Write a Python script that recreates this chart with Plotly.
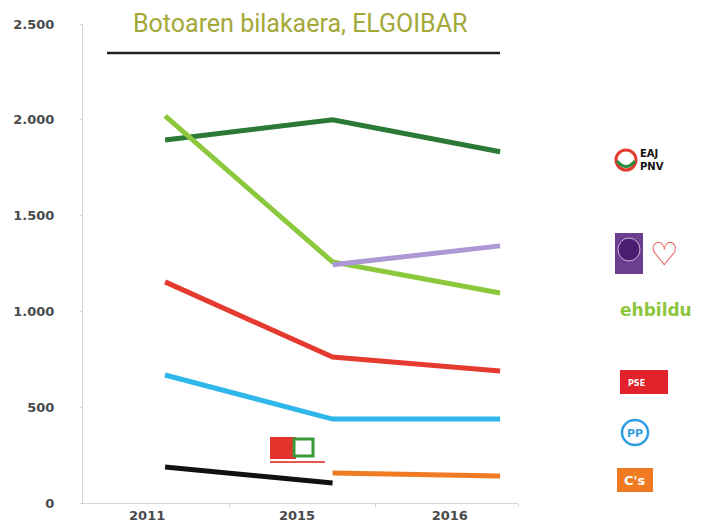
import plotly.graph_objects as go

years = ["2011", "2015", "2016"]
pnv = [1895, 2000, 1833]
bildu = [2020, 1258, 1096]
podemos = [None, 1243, 1342]
pse = [1154, 762, 689]
pp = [668, 438, 438]
cs = [None, 157, 141]
ezker = [188, 104, None]

series = [
    ("EAJ-PNV", pnv, "#2a7a35"),
    ("EH Bildu", bildu, "#8cc83c"),
    ("Podemos", podemos, "#ad98d6"),
    ("PSE", pse, "#e53a30"),
    ("PP", pp, "#2fb6ea"),
    ("C's", cs, "#f07b22"),
    ("Ezker Anitza", ezker, "#111111"),
]

# page offset of the plot div (body margin) and plot area in screen pixels
OFF = 8
L, R, T, B = 83, 518, 24, 503


def px(x):
    return (x - L) / (R - L)


def py(y):
    return (B - y) / (B - T)


xpos = [0, 1, 2]
fig = go.Figure()
for name, vals, color in series:
    fig.add_trace(go.Scatter(x=xpos, y=vals, name=name, mode="lines",
                             line=dict(color=color, width=5), connectgaps=False))

tick_font = dict(family="DejaVu Sans", size=13, color="#4a4a4a", weight="bold")
fig.update_xaxes(range=[-0.49, 2.107], showgrid=False, zeroline=False,
                 showline=True, linecolor="#cfd6de", linewidth=1,
                 tickmode="array", tickvals=[-0.107, 0.788, 1.70], ticktext=years,
                 ticks="", tickfont=tick_font, automargin=False,
                 minor=dict(tickmode="array", tickvals=[0.382, 1.254, 2.107],
                            ticks="outside", ticklen=3, tickcolor="#cfd6de"))
fig.update_yaxes(range=[0, 2500], showgrid=False, zeroline=False,
                 showline=True, linecolor="#cfd6de", linewidth=1,
                 tickvals=[0, 500, 1000, 1500, 2000, 2500], tickformat=",d",
                 ticks="outside", ticklen=2, tickcolor="#cfd6de",
                 ticklabelstandoff=23, automargin=False,
                 tickfont=tick_font)

shapes = [
    # rule under title
    dict(type="line", xref="paper", yref="paper", x0=px(107), x1=px(500), y0=py(53), y1=py(53),
         line=dict(color="#222", width=2.5)),
    # PNV mark
    dict(type="circle", xref="paper", yref="paper", x0=px(616), x1=px(636), y0=py(150), y1=py(170),
         line=dict(color="#e33b30", width=3)),
    dict(type="path", xref="paper", yref="paper",
         path=f"M {px(617)},{py(161)} Q {px(626)},{py(172)} {px(635)},{py(161)}",
         line=dict(color="#2a8a3c", width=3)),
    # Podemos square
    dict(type="rect", xref="paper", yref="paper", x0=px(615), x1=px(643), y0=py(233), y1=py(274),
         fillcolor="#6b3e8e", line=dict(width=0)),
    dict(type="circle", xref="paper", yref="paper", x0=px(618), x1=px(640), y0=py(238), y1=py(261),
         fillcolor="#4a1d6e", line=dict(color="#c9b7dc", width=1)),
    # PSE box
    dict(type="rect", xref="paper", yref="paper", x0=px(620), x1=px(668), y0=py(370), y1=py(394),
         fillcolor="#e3232b", line=dict(width=0)),
    # PP circle
    dict(type="circle", xref="paper", yref="paper", x0=px(622), x1=px(648), y0=py(420), y1=py(445),
         line=dict(color="#2f9ee0", width=2.5)),
    # Cs box
    dict(type="rect", xref="paper", yref="paper", x0=px(617), x1=px(653), y0=py(468), y1=py(492),
         fillcolor="#f07b22", line=dict(width=0)),
    # Ezker Anitza mark
    dict(type="rect", xref="paper", yref="paper", x0=px(270), x1=px(296), y0=py(437), y1=py(459),
         fillcolor="#e2332c", line=dict(width=0)),
    dict(type="rect", xref="paper", yref="paper", x0=px(294), x1=px(313), y0=py(439), y1=py(456),
         fillcolor="white", line=dict(color="#3a9a3a", width=3)),
    dict(type="line", xref="paper", yref="paper", x0=px(270), x1=px(325), y0=py(462), y1=py(462),
         line=dict(color="#e8574f", width=2)),
]

annotations = [
    dict(text="Botoaren bilakaera, ELGOIBAR", xref="paper", yref="paper", x=px(300), y=py(23),
         showarrow=False, xanchor="center", yanchor="middle",
         font=dict(family="Roboto", size=25, color="#a3a838")),
    dict(text="<b>EAJ<br>PNV</b>", xref="paper", yref="paper", x=px(638), y=py(160),
         showarrow=False, xanchor="left", yanchor="middle",
         font=dict(family="DejaVu Sans", size=10, color="#111"), align="left"),
    dict(text="<b>♡</b>", xref="paper", yref="paper", x=px(664), y=py(254),
         showarrow=False, xanchor="center", yanchor="middle",
         font=dict(family="DejaVu Sans", size=32, color="#e8433a")),
    dict(text="<b>ehbildu</b>", xref="paper", yref="paper", x=px(618), y=py(310),
         showarrow=False, xanchor="left", yanchor="middle",
         font=dict(family="DejaVu Sans", size=17, color="#8cc63f")),
    dict(text="<b>PSE</b>", xref="paper", yref="paper", x=px(636), y=py(383),
         showarrow=False, xanchor="center", yanchor="middle",
         font=dict(family="DejaVu Sans", size=8, color="white")),
    dict(text="<b>PP</b>", xref="paper", yref="paper", x=px(635), y=py(433),
         showarrow=False, xanchor="center", yanchor="middle",
         font=dict(family="DejaVu Sans", size=11, color="#2f9ee0")),
    dict(text="<b>C's</b>", xref="paper", yref="paper", x=px(635), y=py(480),
         showarrow=False, xanchor="center", yanchor="middle",
         font=dict(family="DejaVu Sans", size=13, color="white")),
]

fig.update_layout(
    width=702 - OFF, height=526 - OFF,
    margin=dict(l=L - OFF, r=702 - R, t=T - OFF, b=526 - B),
    paper_bgcolor="white", plot_bgcolor="white",
    showlegend=False, separators=",.",
    shapes=shapes, annotations=annotations)

fig.write_html("out.html")
